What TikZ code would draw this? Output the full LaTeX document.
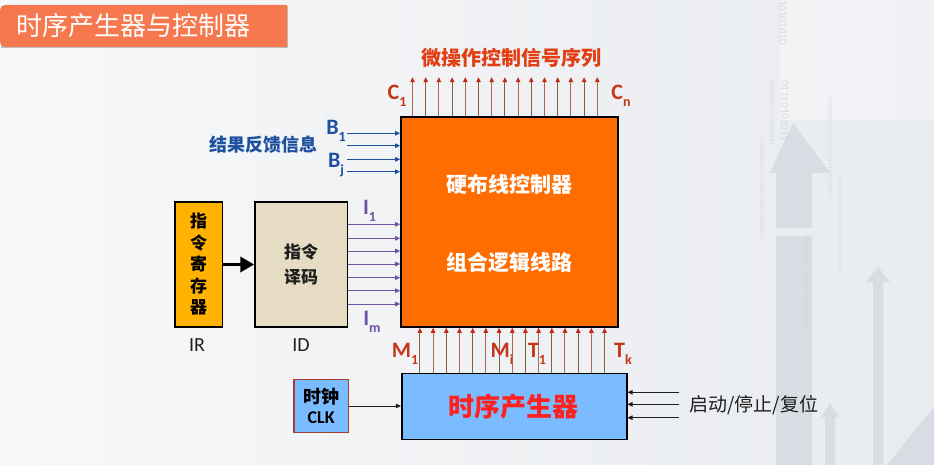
\documentclass[tikz,border=0pt]{standalone}
\usepackage{fontspec}
\setmainfont{Carlito}
\newfontfamily\cjk{Noto Sans CJK SC}
\usetikzlibrary{arrows.meta,calc}

% font size helper (sizes are given in pt = px of the drawing)
\newcommand\pxsize[1]{\fontsize{#1}{#1}\selectfont}
% letter with a lowered subscript
\newcommand\lsub[2]{#1\raisebox{-0.3em}{\pxsize{14}#2}}

\definecolor{bgL}{RGB}{247,248,249}
\definecolor{bgR}{RGB}{232,235,239}
\definecolor{deco}{RGB}{216,221,228}
\definecolor{decotext}{RGB}{205,210,218}
\definecolor{titleorange}{RGB}{245,120,78}
\definecolor{ctrlorange}{RGB}{255,108,0}
\definecolor{tgblue}{RGB}{122,188,255}
\definecolor{irgold}{RGB}{255,178,0}
\definecolor{idbeige}{RGB}{230,220,196}
\definecolor{labelred}{RGB}{200,52,22}
\definecolor{microred}{RGB}{226,62,20}
\definecolor{headred}{RGB}{196,40,20}
\definecolor{shaftA}{RGB}{176,104,84}
\definecolor{shaftB}{RGB}{136,96,62}
\definecolor{fbblue}{RGB}{30,80,160}
\definecolor{ipurple}{RGB}{112,82,162}
\definecolor{tgred}{RGB}{255,32,32}
\definecolor{clkborder}{RGB}{170,60,50}
\definecolor{darktext}{RGB}{30,30,30}

\tikzset{
  blockbox/.style={draw=black, line width=1.6pt, inner sep=0pt},
  sigarrow/.style={-{Triangle[length=5pt,width=4.5pt]}, line width=1pt},
  uparrow/.style={sigarrow, -{Triangle[length=5pt,width=4.5pt,color=headred]}},
  fbarrow/.style={sigarrow, draw=fbblue},
  iarrow/.style={sigarrow, draw=ipurple},
  blackarrow/.style={sigarrow, draw=darktext, line width=0.9pt},
  redlbl/.style={text=labelred, font=\bfseries\pxsize{22}, inner sep=0pt},
  bluelbl/.style={text=fbblue, font=\bfseries\pxsize{22}, inner sep=0pt},
  purplelbl/.style={text=ipurple, font=\bfseries\pxsize{22}, inner sep=0pt},
  ctrltext/.style={text=white, font=\cjk\bfseries\pxsize{21}, inner sep=0pt},
  decotxt/.style={text=decotext, rotate=-90, anchor=west, inner sep=0pt, opacity=0.7},
}

\begin{document}
\begin{tikzpicture}[x=1pt,y=-1pt]
\useasboundingbox (0,0) rectangle (934,465);

% ---- background ----
\shade[left color=bgL, right color=bgR] (0,0) rectangle (934,465);
\fill[white, opacity=0.35] (780,0) rectangle (934,120);

% faint decorative arrows on the right
\fill[deco] (776,228) -- (776,173) -- (770,173) -- (793,123) -- (830,173)
            -- (812,173) -- (812,228) -- cycle;
\fill[deco] (776,236) rectangle (812,465);
\fill[deco] (873,465) -- (873,282) -- (866,282) -- (878,267) -- (890,282)
            -- (883,282) -- (883,465) -- cycle;
\fill[deco] (825,465) -- (825,417) -- (821,417) -- (830,403) -- (839,417)
            -- (835,417) -- (835,465) -- cycle;
\fill[deco] (887,465) -- (934,407) -- (934,465) -- cycle;

% faint binary strings
\node[decotxt, font=\pxsize{11}] (bin1) at (783,0) {10101010};
\node[decotxt, font=\pxsize{11}] (bin2) at (785,80) {01110101011};
\node[decotxt, font=\pxsize{6}] (bin3) at (772,80) {10101010 01 01 01010101};
\node[decotxt, font=\pxsize{6}] (bin4) at (762,137) {10101010 01 01 01010101 01110101011};
\node[decotxt, font=\pxsize{6}] (bin5) at (830,97) {10101010 01 01 01010101 01110101011};
\node[decotxt, font=\pxsize{6}] (bin6) at (840,173) {10101010 01 01 01010101 01110101011};
\node[decotxt, font=\pxsize{6}] (bin7) at (807,233) {10101010 01 01 01010101 01110101011};

% ---- title bar ----
\fill[black!25] (287.8,6.5) -- (287.8,48.5) -- (1,48.5) -- (1,6.5) -- cycle;
\fill[titleorange] (287,47) [rounded corners=6pt] -- (0,47) -- (0,5)
                   [sharp corners] -- (287,5) -- cycle;
\node[anchor=west, text=white, font=\cjk\pxsize{26}, inner sep=0pt]
     (title) at (16,26) {时序产生器与控制器};

% ---- hard-wired controller ----
\node[blockbox, fill=ctrlorange, minimum width=217, minimum height=210] (ctrl) at (509.5,222) {};
\node[ctrltext] (hw) at (509.5,184) {硬布线控制器};
\node[ctrltext] (cl) at (509.5,263) {组合逻辑线路};

% micro-operation control outputs
\foreach \i in {0,...,14}{
  \pgfmathsetmacro\dx{12.3+13.2*\i}
  \path (ctrl.north west) ++(\dx,0) coordinate (top\i);
  \pgfmathparse{int(mod(\i,2))}
  \ifnum\pgfmathresult=0 \def\shc{shaftA}\else\def\shc{shaftB}\fi
  \draw[uparrow, draw=\shc] (top\i) -- ++(0,-39);
}
\node[text=microred, font=\cjk\bfseries\pxsize{20}, inner sep=0pt] (micro) at (511,58) {微操作控制信号序列};
\node[redlbl] (lc1) at (397,96) {\lsub{C}{1}};
\node[redlbl] (lcn) at (621,96) {\lsub{C}{n}};

% feedback inputs
\foreach \y [count=\k] in {133.3,145.7,159.3,171.7}{
  \coordinate (fb\k) at (347,\y);
  \draw[fbarrow] (fb\k) -- (fb\k -| ctrl.west);
}
\node[bluelbl] (lb1) at (336,131) {\lsub{B}{1}};
\node[bluelbl] (lbj) at (336,165) {\lsub{B}{j}};
\node[text=fbblue, font=\cjk\bfseries\pxsize{18}, inner sep=0pt] (fbtext) at (263,145) {结果反馈信息};

% ---- instruction register and decoder ----
\node[blockbox, fill=irgold, minimum width=47.3, minimum height=124.4,
      align=center, font=\cjk\bfseries\fontsize{17}{21.5}\selectfont] (ir) at (198.7,264.5)
      {指\\令\\寄\\存\\器};
\node[blockbox, fill=idbeige, minimum width=92.3, minimum height=124.4,
      align=center, text=darktext, font=\cjk\bfseries\fontsize{17}{25}\selectfont] (id) at (301.2,264.5)
      {指令\\译码};
\draw[line width=3.6pt, -{Triangle[length=14pt,width=15pt]}] (ir.east) -- (id.west);
\node[font=\pxsize{20}, text=darktext, inner sep=0pt] (irl) at (197,345) {IR};
\node[font=\pxsize{20}, text=darktext, inner sep=0pt] (idl) at (301,345) {ID};

% decoded instruction lines
\foreach \y [count=\k] in {224.3,238.3,251,264,277.7,290.7,304}{
  \coordinate (iy\k) at (0,\y);
  \draw[iarrow] (iy\k -| id.east) -- (iy\k -| ctrl.west);
}
\node[purplelbl] (li1) at (369.5,211) {\lsub{I}{1}};
\node[purplelbl] (lim) at (372,322) {\lsub{I}{m}};

% ---- timing generator ----
\node[blockbox, fill=tgblue, minimum width=225, minimum height=66] (tg) at (514.2,406.3) {};
\node[text=tgred, font=\cjk\bfseries\pxsize{26}, inner sep=0pt] (tgtext) at (513,407) {时序产生器};

\foreach \i in {0,...,14}{
  \pgfmathsetmacro\dx{19+13.19*\i}
  \path (tg.north west) ++(\dx,0) coordinate (bot\i);
  \pgfmathparse{int(mod(\i,2))}
  \ifnum\pgfmathresult=0 \def\shc{shaftB}\else\def\shc{shaftA}\fi
  \draw[uparrow, draw=\shc] (bot\i) -- (bot\i |- ctrl.south);
}
\node[redlbl] (lm1) at (405,354) {\lsub{M}{1}};
\node[redlbl] (lmi) at (502,354) {\lsub{M}{i}};
\node[redlbl] (lt1) at (537,354) {\lsub{T}{1}};
\node[redlbl] (ltk) at (623,354) {\lsub{T}{k}};

% clock
\node[draw=clkborder, line width=1.3pt, fill=tgblue, inner sep=0pt,
      minimum width=54.3, minimum height=53.4, align=center,
      font=\bfseries\fontsize{18}{20}\selectfont] (clk) at (321.2,406)
      {{\cjk 时钟}\\CLK};
\draw[blackarrow] (clk.east) -- (clk.east -| tg.west);

% start / stop / reset inputs
\foreach \y [count=\k] in {392.3,404.3,417.7}{
  \coordinate (rs\k) at (679,\y);
  \draw[blackarrow] (rs\k) -- (rs\k -| tg.east);
}
\node[anchor=west, text=darktext, font=\cjk\pxsize{19}, inner sep=0pt] (ctlin) at (689,405) {启动/停止/复位};

\end{tikzpicture}
\end{document}
